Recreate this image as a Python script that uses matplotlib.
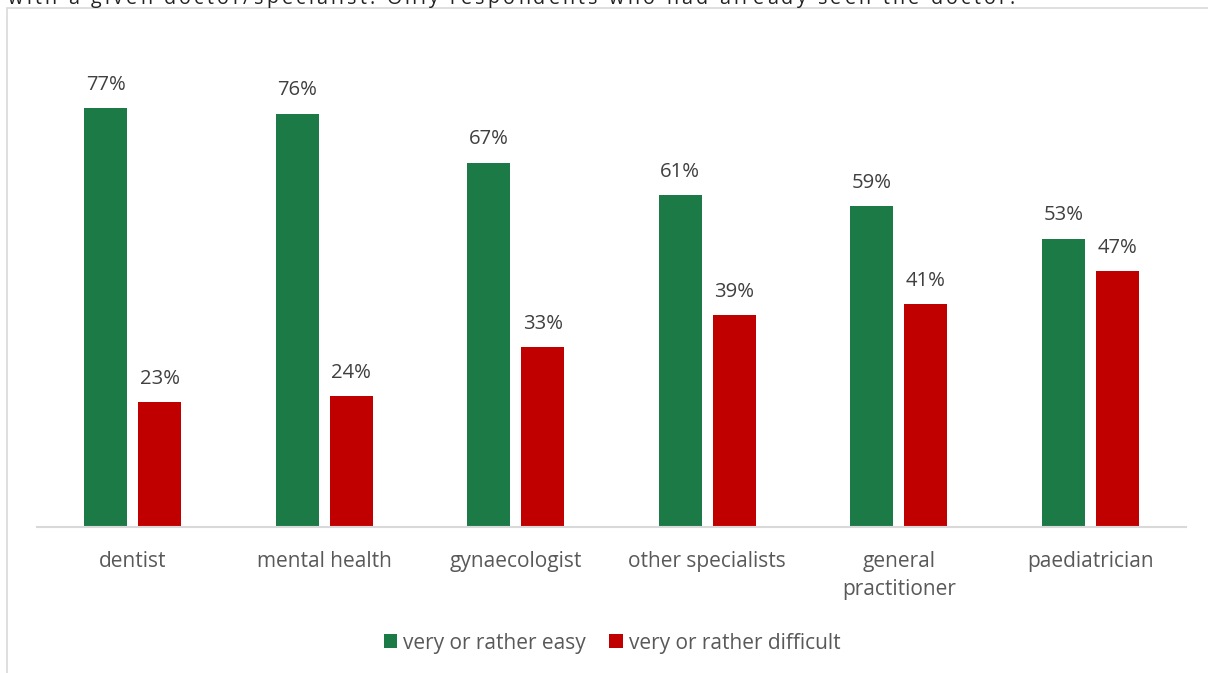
import matplotlib
matplotlib.use("Agg")
import matplotlib.pyplot as plt
from matplotlib.patches import Rectangle, Patch
from matplotlib.font_manager import FontProperties
from matplotlib.textpath import TextToPath
import numpy as np

plt.rcParams['font.family'] = ['Open Sans', 'DejaVu Sans']

categories = ["dentist", "mental health", "gynaecologist", "other specialists",
              "general\npractitioner", "paediatrician"]
easy = [77, 76, 67, 61, 59, 53]
difficult = [23, 24, 33, 39, 41, 47]
series_names = ["very or rather easy", "very or rather difficult"]
caption = "with a given doctor/specialist. Only respondents who had already seen the doctor."

GREEN = "#1C7A47"
RED = "#C00000"
LABEL_GRAY = "#595959"
VALUE_GRAY = "#404040"

W, H = 1208, 673
DPI = 100
fig = plt.figure(figsize=(W / DPI, H / DPI), dpi=DPI)

# outer chart frame (partly outside the canvas)
fig.patches.append(Rectangle((7 / W, -0.1), 1.2, 1 - 8 / H + 0.1,
                             transform=fig.transFigure, fill=False,
                             edgecolor="#D9D9D9", linewidth=1.2, zorder=0))

# letter-spaced caption line running along the top edge
cap_size = 14.2
prop = FontProperties(family="Open Sans", size=cap_size)
t2p = TextToPath()
char_w = [t2p.get_text_width_height_descent(c, prop, ismath=False)[0] * DPI / 72
          for c in caption]
x0, x1 = 8, 1015
gap = (x1 - x0 - sum(char_w)) / (len(caption) - 1)
xc = x0
for c, cw in zip(caption, char_w):
    if c != " ":
        fig.text(xc / W, 1 - 3.5 / H, c, ha="left", va="baseline",
                 fontsize=cap_size, color="#222222")
    xc += cw + gap

ax_left, ax_right = 37 / W, 1186 / W
ax_bottom = 1 - 527 / H
ax_top = 1 - 20 / H
ax = fig.add_axes([ax_left, ax_bottom, ax_right - ax_left, ax_top - ax_bottom])

x = np.arange(len(categories))
bw = 0.225
off = 0.141
b1 = ax.bar(x - off, easy, bw, color=GREEN, zorder=2)
b2 = ax.bar(x + off, difficult, bw, color=RED, zorder=2)

for bars, vals in ((b1, easy), (b2, difficult)):
    for rect, v in zip(bars, vals):
        ax.annotate(f"{v}%", (rect.get_x() + rect.get_width() / 2, v),
                    xytext=(0, 9.5), textcoords="offset points",
                    ha="center", va="bottom", fontsize=14.6, color=VALUE_GRAY)

ax.set_xlim(-0.5, len(categories) - 0.5)
ax.set_ylim(0, 507 / 5.44)
ax.set_xticks(x)
ax.set_xticklabels(categories, fontsize=15, color=LABEL_GRAY, linespacing=1.45)
ax.tick_params(axis="x", length=0, pad=17)
ax.set_yticks([])
for s in ("top", "right", "left"):
    ax.spines[s].set_visible(False)
ax.spines["bottom"].set_color("#D9D9D9")
ax.spines["bottom"].set_linewidth(1.5)

handles = [Patch(facecolor=GREEN), Patch(facecolor=RED)]
fig.legend(handles, series_names, loc="center", bbox_to_anchor=(612 / W, 1 - 643 / H),
           ncol=2, frameon=False, fontsize=15, labelcolor=LABEL_GRAY,
           handlelength=0.65, handleheight=0.65, handletextpad=0.3, columnspacing=1.1)

fig.savefig("out.png", dpi=DPI)
